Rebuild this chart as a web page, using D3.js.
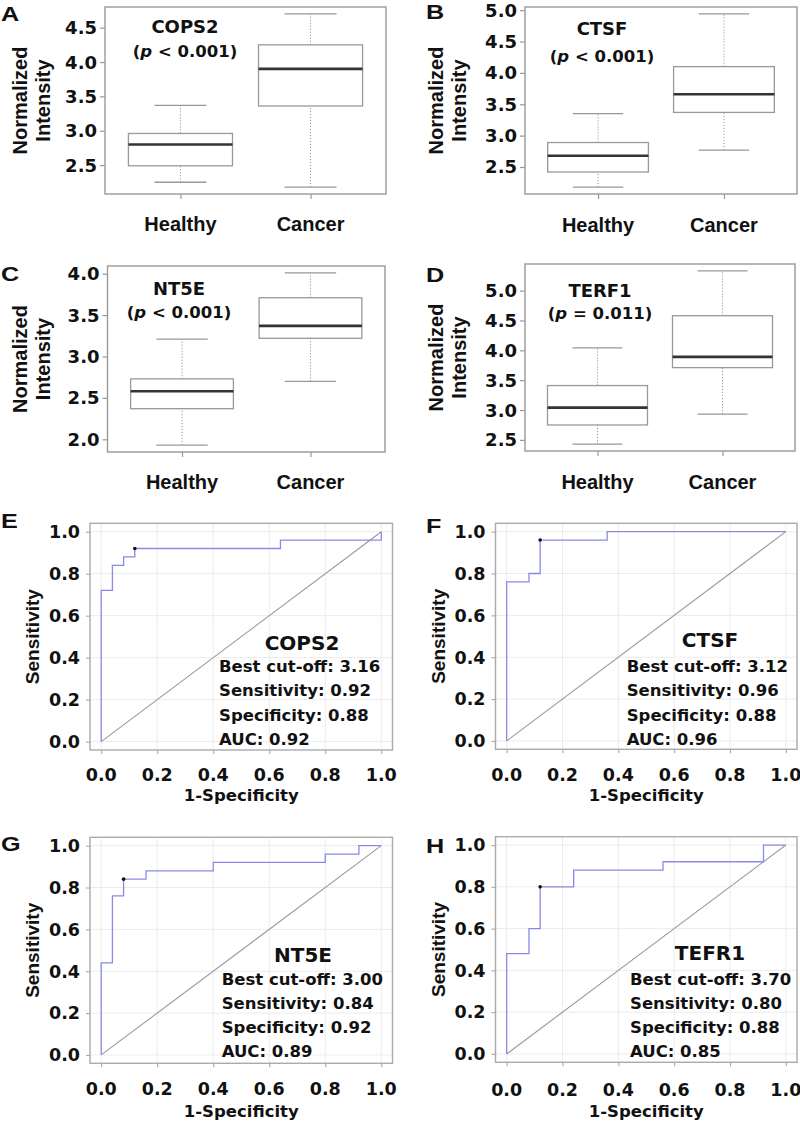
<!DOCTYPE html>
<html><head><meta charset="utf-8">
<script src="https://cdn.jsdelivr.net/npm/d3@7"></script>
<style>body{margin:0;background:#fff} svg{display:block}</style></head>
<body>
<script>
// ---------------- DATA ----------------
const boxGenes = ["COPS2", "CTSF", "NT5E", "TERF1"];
const pLabels = ["< 0.001", "< 0.001", "< 0.001", "= 0.011"];
const groups = ["Healthy", "Cancer"];
// [lower whisker, Q1, median, Q3, upper whisker]
const healthyStats = [
  [2.25, 2.49, 2.80, 2.96, 3.37],
  [2.18, 2.42, 2.68, 2.89, 3.35],
  [1.93, 2.37, 2.58, 2.73, 3.21],
  [2.43, 2.75, 3.04, 3.41, 4.04]
];
const cancerStats = [
  [2.18, 3.36, 3.90, 4.25, 4.70],
  [2.77, 3.37, 3.66, 4.10, 4.94],
  [2.70, 3.22, 3.37, 3.71, 4.01],
  [2.93, 3.71, 3.89, 4.58, 5.33]
];
const boxTicks = [
  [2.5, 3.0, 3.5, 4.0, 4.5],
  [2.5, 3.0, 3.5, 4.0, 4.5, 5.0],
  [2.0, 2.5, 3.0, 3.5, 4.0],
  [2.5, 3.0, 3.5, 4.0, 4.5, 5.0]
];

const rocGenes = ["COPS2", "CTSF", "NT5E", "TEFR1"];
const cutoffs = ["3.16", "3.12", "3.00", "3.70"];
const sensVals = ["0.92", "0.96", "0.84", "0.80"];
const specVals = ["0.88", "0.88", "0.92", "0.88"];
const aucVals = ["0.92", "0.96", "0.89", "0.85"];
const rocFpr = [
  [0, 0, 0.04, 0.04, 0.08, 0.08, 0.12, 0.12, 0.64, 0.64, 1.0, 1.0],
  [0, 0, 0.08, 0.08, 0.12, 0.12, 0.36, 0.36, 1.0],
  [0, 0, 0.04, 0.04, 0.08, 0.08, 0.16, 0.16, 0.40, 0.40, 0.80, 0.80, 0.92, 0.92, 1.0],
  [0, 0, 0.08, 0.08, 0.12, 0.12, 0.24, 0.24, 0.56, 0.56, 0.92, 0.92, 1.0]
];
const rocTpr = [
  [0, 0.72, 0.72, 0.84, 0.84, 0.88, 0.88, 0.92, 0.92, 0.96, 0.96, 1.0],
  [0, 0.76, 0.76, 0.80, 0.80, 0.96, 0.96, 1.0, 1.0],
  [0, 0.44, 0.44, 0.76, 0.76, 0.84, 0.84, 0.88, 0.88, 0.92, 0.92, 0.96, 0.96, 1.0, 1.0],
  [0, 0.48, 0.48, 0.60, 0.60, 0.80, 0.80, 0.88, 0.88, 0.92, 0.92, 1.0, 1.0]
];
const bestFpr = [0.12, 0.12, 0.08, 0.12];
const bestTpr = [0.92, 0.96, 0.84, 0.80];
const rocTicks = [0, 0.2, 0.4, 0.6, 0.8, 1.0];

// ---------------- LAYOUT ----------------
const ARIAL = "'Liberation Sans', Arial, Helvetica, sans-serif";
const DEJA = "'DejaVu Sans', Verdana, sans-serif";

const boxLayout = [
  {letter: "A", lx: 1, ly: 21, x0: 105, x1: 386, y0: 7, y1: 194, ytx: [27, 50], labY: 231, annX: 185, annY: [33, 57]},
  {letter: "B", lx: 426, ly: 19, x0: 525, x1: 797, y0: 7, y1: 194, ytx: [443, 466], labY: 231.5, annX: 602, annY: [35, 62]},
  {letter: "C", lx: 1, ly: 281, x0: 107.5, x1: 385, y0: 266, y1: 452, ytx: [27, 50], labY: 488.5, annX: 179, annY: [295, 318]},
  {letter: "D", lx: 426, ly: 282, x0: 525, x1: 795, y0: 264, y1: 451, ytx: [443, 466], labY: 488.5, annX: 600, annY: [297, 319]}
];
const rocLayout = [
  {letter: "E", lx: 1, ly: 528, x0: 90, x1: 392.5, y0: 523.3, y1: 750, xtkY: 781, xtY: 801, titleX: 302, titleY: 650, statsX: 219, statsY: 671.7, gap: 24.4},
  {letter: "F", lx: 426, ly: 533, x0: 495.5, x1: 797, y0: 523.3, y1: 749.3, xtkY: 781, xtY: 801, titleX: 710, titleY: 647, statsX: 626.7, statsY: 671.7, gap: 24.4},
  {letter: "G", lx: 1, ly: 851, x0: 90, x1: 392.5, y0: 837.3, y1: 1063.3, xtkY: 1095, xtY: 1117, titleX: 303, titleY: 961.7, statsX: 221.7, statsY: 985, gap: 23.9},
  {letter: "H", lx: 426, ly: 853, x0: 495.5, x1: 797, y0: 836.7, y1: 1062.3, xtkY: 1095.5, xtY: 1117, titleX: 710, titleY: 960, statsX: 630, statsY: 985, gap: 24}
];

const svg = d3.select("body").append("svg").attr("width", 800).attr("height", 1126);

function txt(g, x, y, s, o) {
  o = o || {};
  const t = g.append("text")
    .attr("transform", `translate(${x},${y})` + (o.rot ? ` rotate(${o.rot})` : "") + ` scale(${o.sx || 1},1)`)
    .attr("font-family", o.font || ARIAL)
    .attr("font-weight", "bold")
    .attr("font-size", o.size || 16)
    .attr("fill", "#111")
    .attr("text-anchor", o.anchor || "start");
  if (o.dy) t.attr("dy", o.dy);
  t.text(s);
  return t;
}

// ---------------- BOX PANELS ----------------
boxGenes.forEach((gene, i) => {
  const L = boxLayout[i];
  const g = svg.append("g");
  const all = healthyStats[i].concat(cancerStats[i]);
  const lo = d3.min(all), hi = d3.max(all), pad = (hi - lo) * 0.04;
  const y = d3.scaleLinear().domain([lo - pad, hi + pad]).range([L.y1, L.y0]);
  const x = d3.scaleLinear().domain([0.42, 2.58]).range([L.x0, L.x1]);
  const bw = x(1.4) - x(0.6);

  g.append("rect").attr("x", L.x0).attr("y", L.y0).attr("width", L.x1 - L.x0).attr("height", L.y1 - L.y0)
    .attr("fill", "none").attr("stroke", "#999").attr("stroke-width", 1.4);

  const ya = g.append("g").attr("transform", `translate(${L.x0},0)`)
    .call(d3.axisLeft(y).tickValues(boxTicks[i]).tickFormat("").tickSize(5));
  const xa = g.append("g").attr("transform", `translate(0,${L.y1})`)
    .call(d3.axisBottom(x).tickValues([1, 2]).tickFormat("").tickSize(5));
  [ya, xa].forEach(a => {
    a.select(".domain").remove();
    a.selectAll("line").attr("stroke", "#999").attr("stroke-width", 1.2);
  });
  boxTicks[i].forEach(v => txt(g, L.x0 - 8, y(v), d3.format(".1f")(v),
    {font: DEJA, size: 18, anchor: "end", dy: "0.36em"}));

  [healthyStats[i], cancerStats[i]].forEach((s, j) => {
    const cx = x(j + 1);
    g.append("line").attr("x1", cx).attr("x2", cx).attr("y1", y(s[0])).attr("y2", y(s[1]))
      .attr("stroke", "#999").attr("stroke-width", 1).attr("stroke-dasharray", "1.2,1.8");
    g.append("line").attr("x1", cx).attr("x2", cx).attr("y1", y(s[3])).attr("y2", y(s[4]))
      .attr("stroke", "#999").attr("stroke-width", 1).attr("stroke-dasharray", "1.2,1.8");
    [s[0], s[4]].forEach(v => g.append("line").attr("x1", cx - bw / 4).attr("x2", cx + bw / 4)
      .attr("y1", y(v)).attr("y2", y(v)).attr("stroke", "#999").attr("stroke-width", 1.3));
    g.append("rect").attr("x", cx - bw / 2).attr("y", y(s[3])).attr("width", bw).attr("height", y(s[1]) - y(s[3]))
      .attr("fill", "#fff").attr("stroke", "#999").attr("stroke-width", 1.3);
    g.append("line").attr("x1", cx - bw / 2).attr("x2", cx + bw / 2).attr("y1", y(s[2])).attr("y2", y(s[2]))
      .attr("stroke", "#333").attr("stroke-width", 2.6);
    txt(g, cx, L.labY, groups[j], {size: 20, anchor: "middle"});
  });

  txt(g, L.annX, L.annY[0], gene, {font: DEJA, size: 18, anchor: "middle"});
  const p = g.append("text").attr("transform", `translate(${L.annX},${L.annY[1]})`)
    .attr("font-family", DEJA).attr("font-weight", "bold").attr("font-size", 16.5)
    .attr("fill", "#111").attr("text-anchor", "middle");
  p.append("tspan").text("(");
  p.append("tspan").attr("font-style", "italic").text("p");
  p.append("tspan").text(" " + pLabels[i] + ")");

  const cy = (L.y0 + L.y1) / 2;
  txt(g, L.ytx[0], cy, "Normalized", {size: 20, anchor: "middle", rot: -90});
  txt(g, L.ytx[1], cy, "Intensity", {size: 20, anchor: "middle", rot: -90});
  txt(g, L.lx, L.ly, L.letter, {size: 21, sx: 1.2});
});

// ---------------- ROC PANELS ----------------
rocGenes.forEach((gene, i) => {
  const L = rocLayout[i];
  const g = svg.append("g");
  const x = d3.scaleLinear().domain([-0.04, 1.04]).range([L.x0, L.x1]);
  const y = d3.scaleLinear().domain([-0.04, 1.04]).range([L.y1, L.y0]);

  rocTicks.forEach(v => {
    g.append("line").attr("x1", x(v)).attr("x2", x(v)).attr("y1", L.y0).attr("y2", L.y1)
      .attr("stroke", "#ececec").attr("stroke-width", 1);
    g.append("line").attr("x1", L.x0).attr("x2", L.x1).attr("y1", y(v)).attr("y2", y(v))
      .attr("stroke", "#ececec").attr("stroke-width", 1);
  });
  g.append("rect").attr("x", L.x0).attr("y", L.y0).attr("width", L.x1 - L.x0).attr("height", L.y1 - L.y0)
    .attr("fill", "none").attr("stroke", "#aaa").attr("stroke-width", 1.4);

  const ya = g.append("g").attr("transform", `translate(${L.x0},0)`)
    .call(d3.axisLeft(y).tickValues(rocTicks).tickFormat("").tickSize(4));
  const xa = g.append("g").attr("transform", `translate(0,${L.y1})`)
    .call(d3.axisBottom(x).tickValues(rocTicks).tickFormat("").tickSize(4));
  [ya, xa].forEach(a => {
    a.select(".domain").remove();
    a.selectAll("line").attr("stroke", "#aaa").attr("stroke-width", 1.1);
  });
  rocTicks.forEach(v => {
    txt(g, L.x0 - 10, y(v), d3.format(".1f")(v), {font: DEJA, size: 17.5, anchor: "end", dy: "0.36em"});
    txt(g, x(v), L.xtkY, d3.format(".1f")(v), {font: DEJA, size: 17.5, anchor: "middle"});
  });

  g.append("path").attr("d", d3.line()([[x(0), y(0)], [x(1), y(1)]]))
    .attr("stroke", "#999").attr("stroke-width", 1.1).attr("fill", "none");
  const pts = rocFpr[i].map((f, k) => [f, rocTpr[i][k]]);
  g.append("path").attr("d", d3.line().x(d => x(d[0])).y(d => y(d[1]))(pts))
    .attr("stroke", "#8a8ae6").attr("stroke-width", 1.3).attr("fill", "none");
  g.append("circle").attr("cx", x(bestFpr[i])).attr("cy", y(bestTpr[i])).attr("r", 1.8).attr("fill", "#111");

  txt(g, L.titleX, L.titleY, gene, {font: DEJA, size: 20, anchor: "middle"});
  const lines = ["Best cut-off: " + cutoffs[i], "Sensitivity: " + sensVals[i],
                 "Specificity: " + specVals[i], "AUC: " + aucVals[i]];
  lines.forEach((s, k) => txt(g, L.statsX, L.statsY + k * L.gap, s, {font: DEJA, size: 16.5}));

  txt(g, x(0.5), L.xtY, "1-Specificity", {font: DEJA, size: 16.5, anchor: "middle"});
  txt(g, L.x0 - 51, (L.y0 + L.y1) / 2, "Sensitivity", {size: 19, anchor: "middle", rot: -90});
  txt(g, L.lx, L.ly, L.letter, {size: 21, sx: 1.2});
});
</script>
</body></html>
